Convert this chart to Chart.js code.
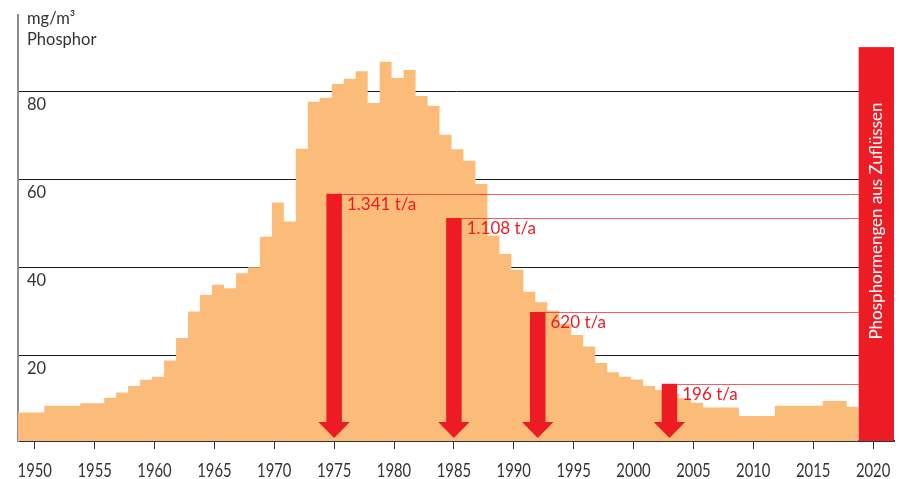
<!DOCTYPE html>
<html><head><meta charset="utf-8">
<script src="https://cdn.jsdelivr.net/npm/chart.js@4.4.1/dist/chart.umd.min.js"></script>
<style>html,body{margin:0;padding:0;background:#fff;}#wrap{width:903px;height:479px;position:relative;}</style>
</head><body><div id="wrap"><canvas id="c" width="903" height="479"></canvas></div>
<script>
// ---- data ----
const years = [1948,1949,1950,1951,1952,1953,1954,1955,1956,1957,1958,1959,1960,1961,1962,1963,1964,1965,1966,1967,1968,1969,1970,1971,1972,1973,1974,1975,1976,1977,1978,1979,1980,1981,1982,1983,1984,1985,1986,1987,1988,1989,1990,1991,1992,1993,1994,1995,1996,1997,1998,1999,2000,2001,2002,2003,2004,2005,2006,2007,2008,2009,2010,2011,2012,2013,2014,2015,2016,2017,2018];
const phosphor = [7.0,7.0,7.0,8.5,8.5,8.5,9.1,9.1,10.3,11.5,13.0,14.4,15.1,18.8,23.9,29.9,33.7,36.0,35.2,38.6,40.0,46.9,54.7,50.4,66.9,77.6,78.5,81.6,82.8,84.5,77.3,86.7,83.0,84.8,78.9,76.7,70.1,66.8,64.2,58.9,47.2,43.0,39.4,34.4,32.0,30.1,27.1,24.6,22.0,18.2,16.1,15.1,14.5,13.0,12.1,11.2,10.2,9.2,8.1,8.1,8.1,6.2,6.2,6.2,8.5,8.5,8.5,8.5,9.6,9.6,8.3];
const xTicks = [1950,1955,1960,1965,1970,1975,1980,1985,1990,1995,2000,2005,2010,2015,2020];
const yTicks = [20,40,60,80];
const arrowYears = [1975,1985,1992,2003];
const arrowValues = [56.7,51.2,29.8,13.5];
const arrowLabels = ['1.341 t/a','1.108 t/a','620 t/a','196 t/a'];
const unitLabel = 'mg/m\u00B3';
const axisTitle = 'Phosphor';
const barLabel = 'Phosphormengen aus Zuflüssen';
const barStart = 2018.8, barEnd = 2021.75, barValue = 90;

// ---- style ----
const ORANGE = 'rgb(250,188,120)';
const RED = '#ED1C24';
const STEP_SHIFT = -0.2;
const FONT = 'Lato, "Open Sans", sans-serif';

const points = years.map((y,i)=>({x:y+STEP_SHIFT, y:phosphor[i]}));
points.push({x: years[years.length-1]+1+STEP_SHIFT, y: phosphor[phosphor.length-1]});

const overlay = {
  id:'overlay',
  afterDraw(chart){
    const ctx = chart.ctx, xs = chart.scales.x, ys = chart.scales.y, ca = chart.chartArea;
    ctx.save();
    ctx.fillStyle = '#333';
    ctx.font = '16.5px ' + FONT;
    ctx.textAlign = 'left'; ctx.textBaseline = 'alphabetic';
    yTicks.forEach(v=>{ ctx.fillText(String(v), 27, ys.getPixelForValue(v)+19); });
    ctx.fillText(unitLabel, 27, 23.5);
    ctx.fillText(axisTitle, 27, 45);
    ctx.font = '20px ' + FONT;
    ctx.textAlign = 'center';
    xTicks.forEach(v=>{
      const px = xs.getPixelForValue(v);
      ctx.save(); ctx.translate(px, 476.5); ctx.scale(0.74,1);
      ctx.fillText(String(v), 0, 0); ctx.restore();
    });
    const barLeft = xs.getPixelForValue(barStart);
    const bottom = ca.bottom;
    arrowYears.forEach((yr,i)=>{
      const cx = xs.getPixelForValue(yr);
      const top = ys.getPixelForValue(arrowValues[i]);
      const hw = 7.75, headW = 15.75, tip = bottom-3, headTop = tip-16;
      ctx.strokeStyle = 'rgba(237,28,36,0.7)'; ctx.lineWidth = 1;
      ctx.beginPath(); ctx.moveTo(cx+hw, Math.round(top)+0.5); ctx.lineTo(barLeft, Math.round(top)+0.5); ctx.stroke();
      ctx.fillStyle = RED;
      ctx.beginPath();
      ctx.moveTo(cx-hw, top); ctx.lineTo(cx+hw, top); ctx.lineTo(cx+hw, headTop);
      ctx.lineTo(cx+headW, headTop); ctx.lineTo(cx, tip); ctx.lineTo(cx-headW, headTop);
      ctx.lineTo(cx-hw, headTop); ctx.closePath(); ctx.fill();
      ctx.font = '17px ' + FONT; ctx.textAlign = 'left'; ctx.textBaseline = 'alphabetic';
      ctx.fillText(arrowLabels[i], cx+hw+5, top+16);
    });
    const bx1 = xs.getPixelForValue(barStart), bx2 = xs.getPixelForValue(barEnd);
    const by = ys.getPixelForValue(barValue);
    ctx.fillStyle = RED;
    ctx.fillRect(bx1, by, bx2-bx1, bottom-by);
    ctx.save();
    ctx.translate(881.5, 221); ctx.rotate(-Math.PI/2);
    ctx.fillStyle = '#fff'; ctx.font = '17px ' + FONT; ctx.textAlign = 'center'; ctx.textBaseline = 'alphabetic';
    ctx.fillText(barLabel, 0, 0);
    ctx.restore();
    ctx.restore();
  }
};

new Chart(document.getElementById('c'), {
  type:'line',
  data:{datasets:[{data:points, stepped:true, fill:'start', backgroundColor:ORANGE, borderColor:ORANGE, borderWidth:0, pointRadius:0, tension:0}]},
  options:{
    responsive:false, animation:false, events:[],
    layout:{padding:{top:15,right:9,left:0,bottom:0}},
    plugins:{legend:{display:false}, tooltip:{enabled:false}},
    scales:{
      x:{type:'linear', min:1948.6, max:barEnd, z:1,
        afterBuildTicks:s=>{s.ticks = xTicks.map(v=>({value:v}));},
        afterFit:s=>{s.height = 38;},
        ticks:{display:false},
        grid:{drawOnChartArea:false, drawTicks:true, tickLength:8, color:'#333', lineWidth:1},
        border:{display:true, color:'#333', width:2}},
      y:{type:'linear', min:0.5, max:97.3, z:1,
        afterBuildTicks:s=>{s.ticks = yTicks.map(v=>({value:v}));},
        afterFit:s=>{s.width = 18;},
        ticks:{display:false},
        grid:{color:'#1a1a1a', lineWidth:1, drawTicks:false},
        border:{display:true, color:'#8c8c8c', width:2}}
    }
  },
  plugins:[overlay]
});
</script></body></html>
